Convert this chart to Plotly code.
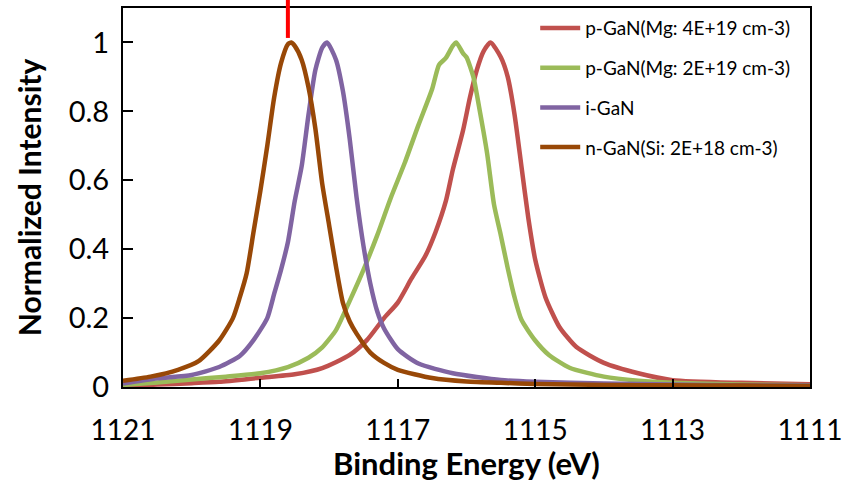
import plotly.graph_objects as go

# ---- data ----
names = ["p-GaN(Mg: 4E+19 cm-3)", "p-GaN(Mg: 2E+19 cm-3)", "i-GaN", "n-GaN(Si: 2E+18 cm-3)"]
colors = ["#C0504D", "#9BBB59", "#8064A2", "#984807"]

red_x = [1121, 1120.5, 1120.0, 1119.6, 1119.0, 1118.5, 1118.1, 1117.7, 1117.45, 1117.2, 1117.0,
         1116.8, 1116.6, 1116.45, 1116.3, 1116.2, 1116.05, 1115.95, 1115.85, 1115.75, 1115.65,
         1115.5, 1115.4, 1115.3, 1115.2, 1115.1, 1115.0, 1114.85, 1114.65, 1114.4, 1114.0,
         1113.5, 1113.0, 1112.0, 1111.0]
red_y = [0.003, 0.007, 0.011, 0.015, 0.027, 0.037, 0.055, 0.093, 0.136, 0.2, 0.245,
         0.315, 0.38, 0.45, 0.54, 0.63, 0.745, 0.84, 0.92, 0.975, 1.0,
         0.957, 0.9, 0.79, 0.64, 0.49, 0.37, 0.26, 0.175, 0.116, 0.07,
         0.04, 0.02, 0.012, 0.008]

green_x = [1121, 1120.5, 1120.0, 1119.5, 1119.0, 1118.6, 1118.3, 1118.1, 1117.9, 1117.7, 1117.5,
           1117.3, 1117.1, 1116.9, 1116.7, 1116.5, 1116.4, 1116.3, 1116.2, 1116.15, 1116.05,
           1116.0, 1115.9, 1115.8, 1115.7, 1115.6, 1115.5, 1115.4, 1115.3, 1115.2, 1115.0,
           1114.8, 1114.5, 1114.0, 1113.5, 1113.0, 1112.0, 1111.0]
green_y = [0.006, 0.013, 0.022, 0.03, 0.04, 0.058, 0.085, 0.115, 0.165, 0.25, 0.34,
           0.44, 0.55, 0.65, 0.76, 0.865, 0.935, 0.955, 0.99, 1.0, 0.968,
           0.957, 0.9, 0.794, 0.678, 0.53, 0.44, 0.345, 0.26, 0.195, 0.135,
           0.093, 0.056, 0.03, 0.018, 0.012, 0.007, 0.005]

purple_x = [1121, 1120.5, 1120.0, 1119.6, 1119.3, 1119.1, 1118.9, 1118.8, 1118.7, 1118.6, 1118.5,
            1118.4, 1118.3, 1118.2, 1118.1, 1118.03, 1117.9, 1117.8, 1117.7, 1117.6, 1117.5,
            1117.4, 1117.3, 1117.2, 1117.0, 1116.7, 1116.2, 1115.5, 1115.0, 1114.0, 1113.0,
            1112.0, 1111.0]
purple_y = [0.01, 0.025, 0.035, 0.058, 0.09, 0.136, 0.2, 0.27, 0.34, 0.42, 0.54,
            0.64, 0.79, 0.92, 0.985, 1.0, 0.95, 0.86, 0.72, 0.55, 0.41,
            0.30, 0.22, 0.17, 0.11, 0.068, 0.04, 0.02, 0.015, 0.01, 0.007,
            0.005, 0.004]

brown_x = [1121, 1120.6, 1120.2, 1119.9, 1119.6, 1119.4, 1119.3, 1119.2, 1119.1, 1119.0, 1118.9,
           1118.8, 1118.7, 1118.6, 1118.55, 1118.5, 1118.4, 1118.3, 1118.2, 1118.1, 1118.0,
           1117.9, 1117.8, 1117.7, 1117.6, 1117.4, 1117.2, 1117.0, 1116.5, 1116.0, 1115.5,
           1115.0, 1114.0, 1113.0, 1112.0, 1111.0]
brown_y = [0.018, 0.03, 0.05, 0.075, 0.135, 0.2, 0.26, 0.33, 0.45, 0.57, 0.7,
           0.84, 0.94, 0.995, 1.0, 0.99, 0.95, 0.87, 0.75, 0.59, 0.47,
           0.35, 0.245, 0.19, 0.155, 0.10, 0.07, 0.05, 0.026, 0.016, 0.012,
           0.009, 0.006, 0.005, 0.004, 0.003]

x_range = [1121, 1111]
y_range = [0, 1.1]
x_ticks = [1121, 1119, 1117, 1115, 1113, 1111]
y_ticks = [0, 0.2, 0.4, 0.6, 0.8, 1]
y_ticklabels = ["0", "0.2", "0.4", "0.6", "0.8", "1"]
marker_energy = 1118.6  # red reference line position

series = [(red_x, red_y), (green_x, green_y), (purple_x, purple_y), (brown_x, brown_y)]

FONT = "Lato"
fig = go.Figure()
for i, ((xs, ys), nm, col) in enumerate(zip(series, names, colors)):
    fig.add_trace(go.Scatter(
        x=xs, y=ys, name=nm, mode="lines", legendgroup=f"g{i}",
        line=dict(color=col, width=4.5, shape="spline", smoothing=0.6),
    ))

# red vertical marker line (extends above the plot area)
px = (x_range[0] - marker_energy) / (x_range[0] - x_range[1])
fig.add_shape(type="line", xref="paper", yref="paper", x0=px, x1=px, y0=0.921, y1=1.03,
              line=dict(color="#FF0000", width=4))

fig.update_layout(
    width=842, height=482,
    margin=dict(l=123, r=32, t=8, b=95, autoexpand=False),
    paper_bgcolor="white", plot_bgcolor="white",
    font=dict(family=FONT, color="black"),
    showlegend=True,
    legend=dict(x=0.6, y=0.997, xanchor="left", yanchor="top",
                font=dict(size=19, family=FONT, color="black"),
                bgcolor="rgba(0,0,0,0)", tracegroupgap=12, itemwidth=40),
    xaxis=dict(range=x_range, tickvals=x_ticks, ticktext=[str(t) for t in x_ticks],
               ticks="inside", ticklen=8, tickwidth=1.5, tickcolor="black",
               showline=True, linecolor="black", linewidth=2, mirror=True,
               showgrid=False, zeroline=False, ticklabeloverflow="allow",
               tickfont=dict(size=28, family=FONT), ticklabelstandoff=17,
               title=dict(text="<b>Binding Energy (eV)</b>", font=dict(size=31, family=FONT), standoff=2)),
    yaxis=dict(range=y_range, tickvals=y_ticks, ticktext=y_ticklabels,
               ticks="inside", ticklen=10, tickwidth=1.5, tickcolor="black",
               showline=True, linecolor="black", linewidth=2, mirror=True,
               showgrid=False, zeroline=False,
               tickfont=dict(size=29, family=FONT), ticklabelstandoff=6,
               title=dict(text="<b>Normalized Intensity</b>", font=dict(size=30, family=FONT), standoff=18)),
)

fig.write_html("out.html", config={"displayModeBar": False},
               post_script="document.body.style.margin='0';document.body.style.overflow='hidden';")
